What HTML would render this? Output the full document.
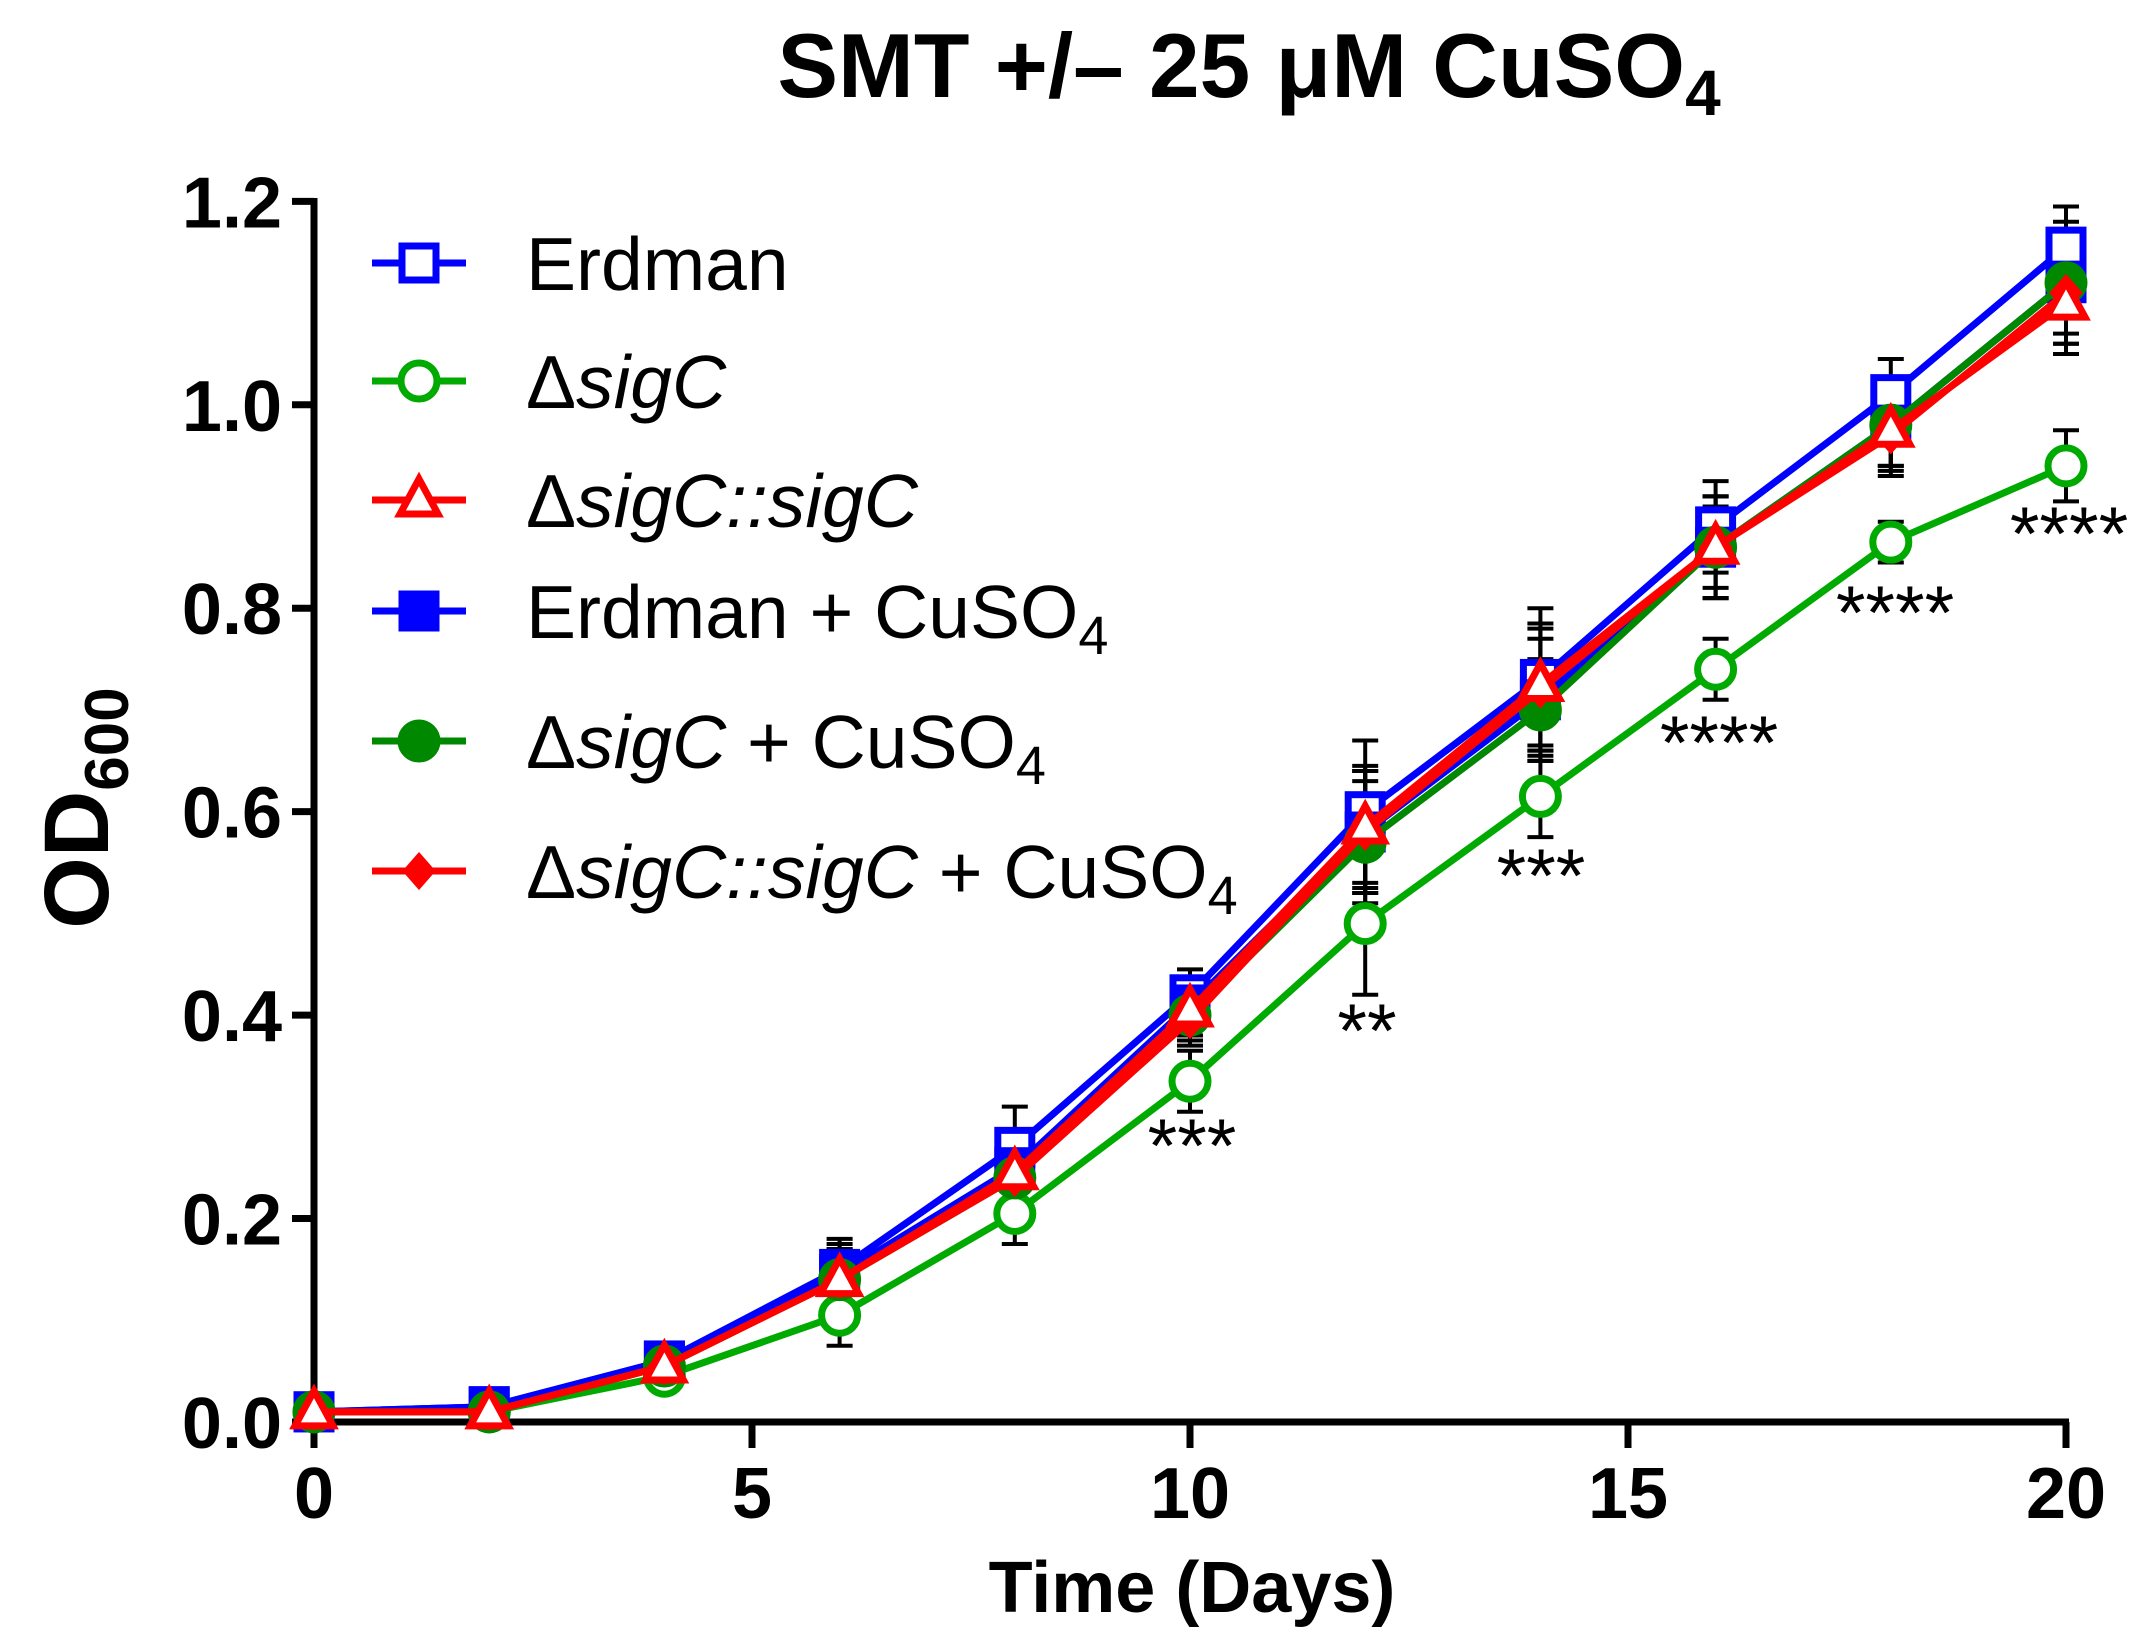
<!DOCTYPE html>
<html><head><meta charset="utf-8"><style>
html,body{margin:0;padding:0;background:#fff}
svg{display:block}
text{font-family:"Liberation Sans",Arial,sans-serif}
</style></head><body>
<svg id="s" width="2148" height="1646" viewBox="0 0 2148 1646" xmlns="http://www.w3.org/2000/svg">
<rect width="2148" height="1646" fill="#fff"/>
<text x="1249" y="97" font-size="91" font-weight="bold" text-anchor="middle">SMT +/– 25 μM  CuSO<tspan font-size="64" dy="18">4</tspan></text>
<g id="axes"></g>
<g id="data"></g>
<g id="legend"></g>
<text x="1192" y="1612" font-size="72" font-weight="bold" text-anchor="middle">Time (Days)</text>
<text transform="translate(108,808) rotate(-90)" font-size="92" font-weight="bold" text-anchor="middle">OD<tspan font-size="62" dy="20">600</tspan></text>
<g font-size="76" text-anchor="middle">
<text x="1192" y="1172">***</text>
<text x="1367" y="1057">**</text>
<text x="1541" y="902">***</text>
<text x="1719" y="769">****</text>
<text x="1895" y="639">****</text>
<text x="2069" y="560">****</text>
</g>
</svg>
<script>
const NS="http://www.w3.org/2000/svg";
const X=t=>314+t*87.6, Y=v=>1422-v*1017.2;
function el(p,tag,a,txt){const e=document.createElementNS(NS,tag);for(const k in a)e.setAttribute(k,a[k]);if(txt!=null)e.textContent=txt;p.appendChild(e);return e;}
const ax=document.getElementById('axes');
el(ax,'line',{x1:314,y1:198,x2:314,y2:1448,stroke:'#000','stroke-width':7});
el(ax,'line',{x1:311,y1:1422,x2:2069,y2:1422,stroke:'#000','stroke-width':7});
for(let i=0;i<=6;i++){const v=i*0.2,y=Y(v);el(ax,'line',{x1:292,y1:y,x2:314,y2:y,stroke:'#000','stroke-width':7});
el(ax,'text',{x:282,y:y+26,'font-size':72,'font-weight':'bold','text-anchor':'end'},v.toFixed(1));}
for(let t=0;t<=20;t+=5){const x=X(t);el(ax,'line',{x1:x,y1:1422,x2:x,y2:1448,stroke:'#000','stroke-width':7});
el(ax,'text',{x:x,y:1518,'font-size':72,'font-weight':'bold','text-anchor':'middle'},t);}
const T=[0,2,4,6,8,10,12,14,16,18,20];
const S=[
{c:'#00f',m:'sq',f:0,v:[0.01,0.015,0.06,0.15,0.27,0.42,0.60,0.73,0.88,1.01,1.155],e:[0,0,0.015,0.03,0.04,0.025,0.07,0.07,0.045,0.035,0.04]},
{c:'#0a0',m:'ci',f:0,v:[0.01,0.01,0.045,0.105,0.205,0.335,0.49,0.615,0.74,0.865,0.94],e:[0,0,0.01,0.03,0.03,0.03,0.07,0.04,0.03,0.02,0.035]},
{c:'#00f',m:'sq',f:1,v:[0.01,0.015,0.06,0.145,0.25,0.41,0.58,0.71,0.86,0.98,1.12],e:[0,0,0.01,0.03,0.03,0.025,0.06,0.06,0.05,0.04,0.06]},
{c:'#080',m:'ci',f:1,v:[0.01,0.01,0.055,0.14,0.24,0.40,0.57,0.70,0.86,0.98,1.12],e:[0,0,0.01,0.03,0.03,0.025,0.06,0.05,0.04,0.04,0.05]},
{c:'#f00',m:'di',f:1,v:[0.01,0.01,0.055,0.14,0.24,0.395,0.58,0.72,0.86,0.97,1.11],e:[0,0,0.01,0.03,0.03,0.025,0.06,0.06,0.05,0.04,0.05]},
{c:'#f00',m:'tr',f:0,v:[0.01,0.01,0.055,0.14,0.245,0.405,0.585,0.725,0.86,0.975,1.1],e:[0,0,0.01,0.03,0.03,0.025,0.06,0.06,0.05,0.04,0.05]}
];
function marker(g,m,x,y,c,f){
 const fill=f?c:'#fff';
 if(m=='sq')el(g,'rect',{x:x-17,y:y-17,width:34,height:34,fill:fill,stroke:c,'stroke-width':7});
 else if(m=='ci')el(g,'circle',{cx:x,cy:y,r:18,fill:fill,stroke:c,'stroke-width':7});
 else if(m=='tr')el(g,'polygon',{points:`${x},${y-21} ${x+19},${y+14} ${x-19},${y+14}`,fill:fill,stroke:c,'stroke-width':7});
 else if(m=='di')el(g,'polygon',{points:`${x},${y-16} ${x+14},${y} ${x},${y+16} ${x-14},${y}`,fill:fill,stroke:c,'stroke-width':4});
}
const d=document.getElementById('data');
S.forEach(s=>{T.forEach((t,i)=>{if(s.e[i]>0){const x=X(t);el(d,'path',{d:`M${x},${Y(s.v[i]-s.e[i])}V${Y(s.v[i]+s.e[i])}M${x-13},${Y(s.v[i]-s.e[i])}h26M${x-13},${Y(s.v[i]+s.e[i])}h26`,stroke:'#000','stroke-width':4,fill:'none'});}});});
S.forEach(s=>{el(d,'polyline',{points:T.map((t,i)=>X(t)+','+Y(s.v[i])).join(' '),fill:'none',stroke:s.c,'stroke-width':7,'stroke-linejoin':'round'});
 T.forEach((t,i)=>marker(d,s.m,X(t),Y(s.v[i]),s.c,s.f));});
const lg=document.getElementById('legend');
const L=[
{c:'#00f',m:'sq',f:0,y:263,h:'Erdman'},
{c:'#0a0',m:'ci',f:0,y:381,h:'Δ<tspan font-style="italic">sigC</tspan>'},
{c:'#f00',m:'tr',f:0,y:500,h:'Δ<tspan font-style="italic">sigC::sigC</tspan>'},
{c:'#00f',m:'sq',f:1,y:611,h:'Erdman + CuSO<tspan font-size="54" dy="16">4</tspan>'},
{c:'#080',m:'ci',f:1,y:741,h:'Δ<tspan font-style="italic">sigC</tspan> + CuSO<tspan font-size="54" dy="16">4</tspan>'},
{c:'#f00',m:'di',f:1,y:871,h:'Δ<tspan font-style="italic">sigC::sigC</tspan> + CuSO<tspan font-size="54" dy="16">4</tspan>'}
];
L.forEach(l=>{el(lg,'line',{x1:372,y1:l.y,x2:466,y2:l.y,stroke:l.c,'stroke-width':7});marker(lg,l.m,419,l.y,l.c,l.f);
 const t=el(lg,'text',{x:526,y:l.y+27,'font-size':75});t.innerHTML=l.h;});
</script>
</body></html>
